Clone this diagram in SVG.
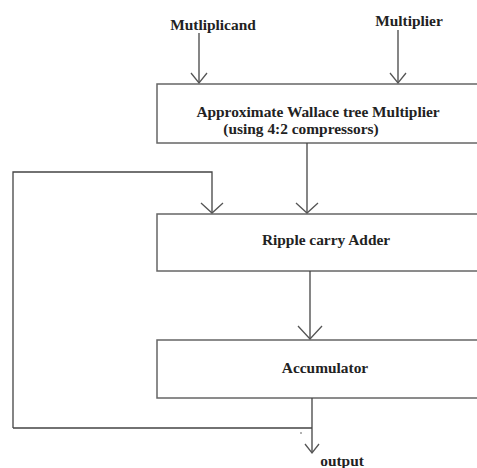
<svg xmlns="http://www.w3.org/2000/svg" width="477" height="468" viewBox="0 0 477 468">
<style>
.box{fill:#fff;stroke:#666;stroke-width:1.5}
.ln{fill:none;stroke:#444;stroke-width:1.3}
.ah{fill:none;stroke:#555;stroke-width:1.3}
text{font-family:"Liberation Serif","Times New Roman",serif;font-weight:bold;fill:#222;font-size:15.4px}
</style>
<rect width="477" height="468" fill="#fff"/>
<g id="labels">
<text x="213" y="30" text-anchor="middle">Mutliplicand</text>
<text x="409" y="26" text-anchor="middle">Multiplier</text>
</g>
<g id="wallace">
<rect class="box" x="157" y="84" width="340" height="59"/>
<text x="318" y="117" text-anchor="middle">Approximate Wallace tree Multiplier</text>
<text x="301" y="134" text-anchor="middle">(using 4:2 compressors)</text>
</g>
<g id="rca">
<rect class="box" x="157" y="214" width="340" height="57"/>
<text x="326" y="245" text-anchor="middle">Ripple carry Adder</text>
</g>
<g id="acc">
<rect class="box" x="157" y="340" width="340" height="58"/>
<text x="325" y="373" text-anchor="middle">Accumulator</text>
</g>
<g id="output">
<text x="342" y="466" text-anchor="middle" font-size="12.5px">output</text>
</g>
<g id="connectors">
<path class="ln" d="M199 33V83"/>
<path class="ah" d="M191 73L199 83L207 73"/>
<path class="ln" d="M398 30V83"/>
<path class="ah" d="M390 73L398 83L406 73"/>
<path class="ln" d="M307 143V213"/>
<path class="ah" d="M296 203L307 213L318 203"/>
<path class="ln" d="M13 428V172H212V213"/>
<path class="ah" d="M201 203L212 213L223 203"/>
<path class="ln" d="M310 271V339"/>
<path class="ah" d="M298 326L310 339L322 326"/>
<path class="ln" d="M312 398V453M13 428H312"/>
<path class="ah" d="M305 444L312 453L319 444"/>
<path d="M300 433H302" stroke="#666" stroke-width="1"/>
</g>
</svg>
